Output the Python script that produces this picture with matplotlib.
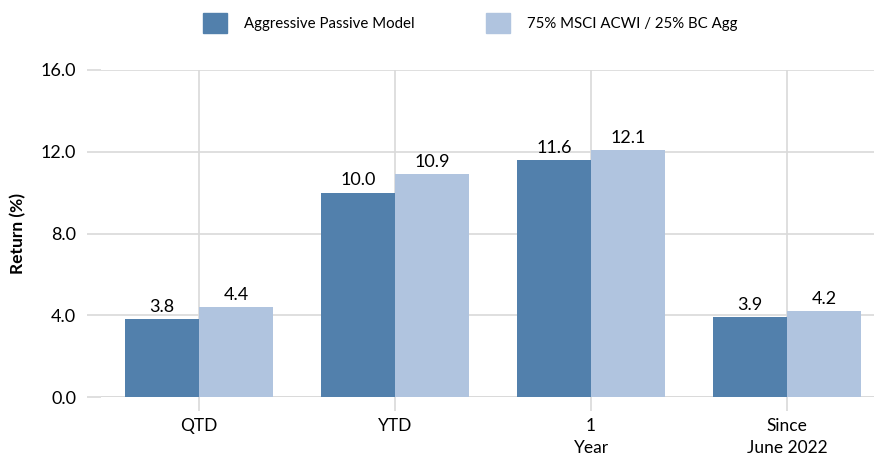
import matplotlib
matplotlib.use("Agg")
import matplotlib.pyplot as plt
import numpy as np
from matplotlib.patches import Patch

plt.rcParams['font.family'] = ['Lato', 'DejaVu Sans']

categories = ["QTD", "YTD", "1\nYear", "Since\nJune 2022"]
series_names = ["Aggressive Passive Model", "75% MSCI ACWI / 25% BC Agg"]
model = [3.8, 10.0, 11.6, 3.9]
bench = [4.4, 10.9, 12.1, 4.2]
yticks = [0.0, 4.0, 8.0, 12.0, 16.0]

c_dark = "#5280AC"
c_light = "#B0C4DF"
grid_c = "#D9D9D9"

fig = plt.figure(figsize=(8.74, 4.59), dpi=100)
ax = fig.add_axes([101/874, 62/459, 773/874, 327/459])

x = np.arange(len(categories))
w = 0.378
b1 = ax.bar(x - w/2, model, w, color=c_dark, zorder=3)
b2 = ax.bar(x + w/2, bench, w, color=c_light, zorder=3)
for bars, vals in ((b1, model), (b2, bench)):
    for r, v in zip(bars, vals):
        ax.annotate(f"{v:.1f}", (r.get_x() + r.get_width()/2, v),
                    xytext=(0, 3), textcoords="offset points",
                    ha="center", va="bottom", fontsize=13, color="#000000")

ax.set_xlim(-0.5, -0.5 + 773/196)
ax.set_ylim(0, 16)
ax.set_yticks(yticks)
ax.set_yticklabels([f"{t:.1f}" for t in yticks], fontsize=13)
ax.set_xticks(x)
ax.set_xticklabels(categories, fontsize=12.5, linespacing=1.45, va="top")
ax.tick_params(axis="both", color=grid_c, length=10, width=1.2)
ax.tick_params(axis="x", pad=5)
ax.tick_params(axis="y", pad=8)
ax.grid(True, color=grid_c, linewidth=1.2, zorder=0)
for s in ax.spines.values():
    s.set_visible(False)
ax.axhline(0, color=grid_c, linewidth=1.2, zorder=2)
ax.set_ylabel("Return (%)", fontsize=12.5, fontweight="bold", labelpad=10)

handles = [Patch(color=c_dark), Patch(color=c_light)]
fig.legend(handles, series_names, loc="upper center", bbox_to_anchor=(0.538, 1.0),
           ncol=2, frameon=False, fontsize=10.8, handlelength=1.6, handleheight=1.6,
           handletextpad=1.1, columnspacing=4.8)

fig.savefig("out.png", dpi=100)
